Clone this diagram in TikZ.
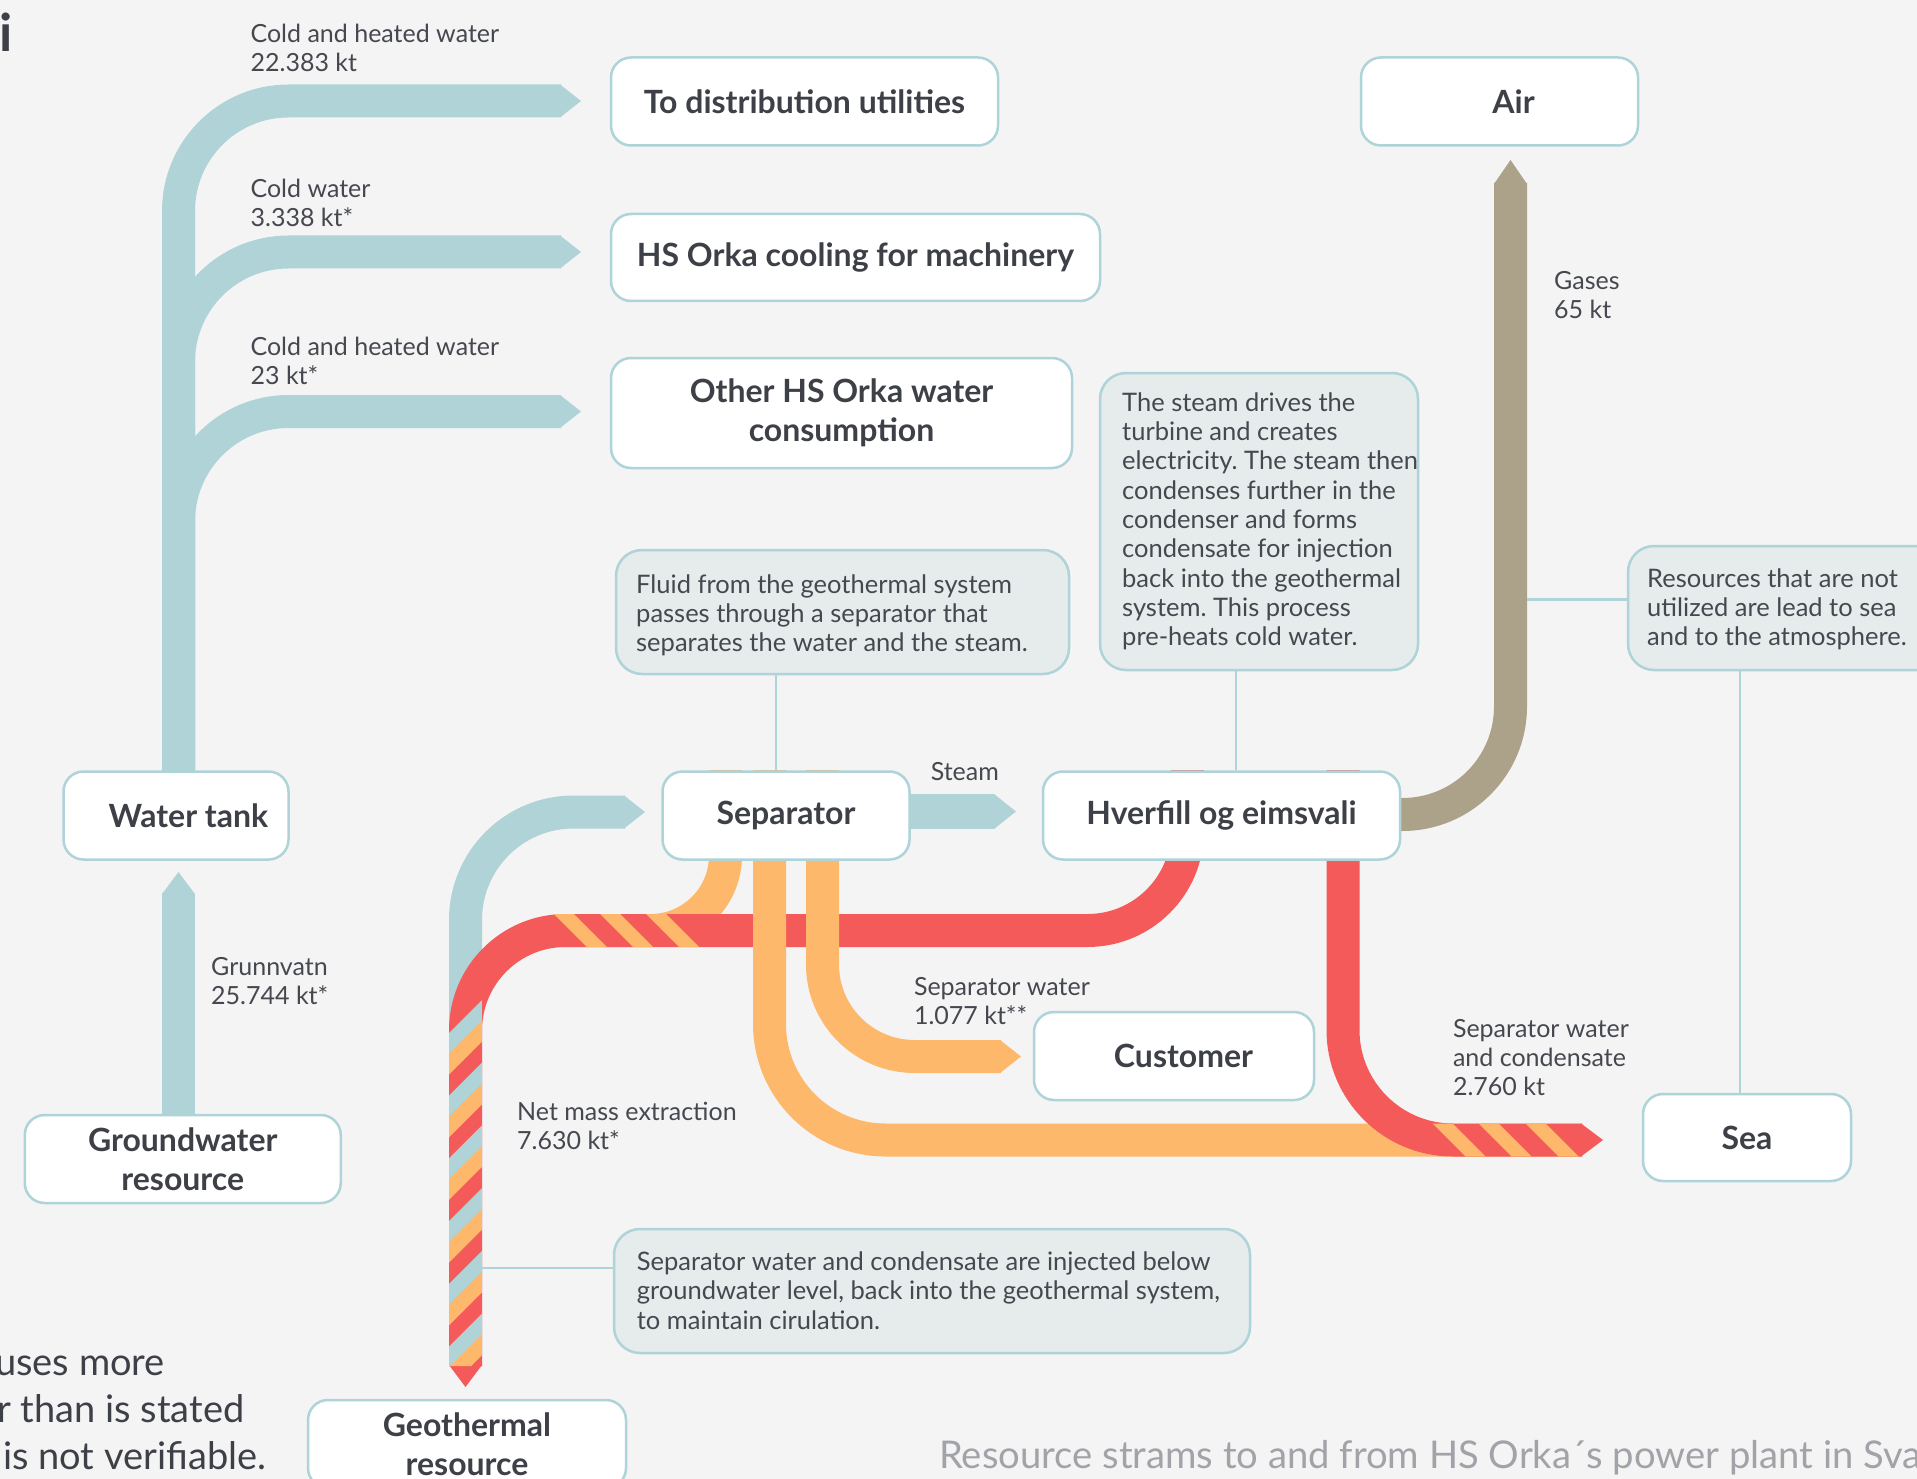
\documentclass[tikz,border=0pt]{standalone}
\usepackage{fontspec}
\setmainfont{Lato}
\usetikzlibrary{calc}
\frenchspacing
\definecolor{bgc}{HTML}{F4F4F4}
\definecolor{bordc}{HTML}{AED3D8}
\definecolor{notec}{HTML}{E6EBEC}
\definecolor{sblue}{HTML}{B0D3D7}
\definecolor{sorange}{HTML}{FDB86C}
\definecolor{sred}{HTML}{F45A59}
\definecolor{stan}{HTML}{ACA189}
\definecolor{tdark}{HTML}{3E4047}
\definecolor{tlbl}{HTML}{46484F}
\definecolor{tgray}{HTML}{A2A3A8}
\colorlet{stripe0}{sblue}
\colorlet{stripe1}{sorange}
\colorlet{stripe2}{sred}
\newcommand\boxfnt{\fontsize{32}{38.5}\selectfont\bfseries}
\newcommand\lblfnt{\fontsize{25}{29}\selectfont}
\newcommand\notefnt{\fontsize{25.5}{29.3}\selectfont}
\newcommand\bigfnt{\fontsize{38}{47}\selectfont}
\newcommand\ttlfnt{\fontsize{38.2}{44}\selectfont}
\begin{document}
\begin{tikzpicture}[x=1pt,y=-1pt,
  box/.style={draw=bordc, line width=2.5pt, fill=white, rounded corners=20pt, font=\boxfnt, text=tdark, align=center, inner sep=0pt},
  note/.style={draw=bordc, line width=2.5pt, fill=notec, rounded corners=26pt, inner sep=0pt},
  notetxt/.style={font=\notefnt, text=tlbl, align=left, anchor=north west, inner sep=0pt},
  lbl/.style={font=\lblfnt, text=tlbl, align=left, anchor=north west, inner sep=0pt},
  bigtxt/.style={font=\bigfnt, text=tdark, anchor=base west, inner sep=0pt},
  conn/.style={draw=bordc, line width=2.5pt},
  stream/.style={line width=33pt, line cap=butt},
]
\useasboundingbox (0,0) rectangle (1917,1479);
\clip (0,0) rectangle (1917,1479);
\fill[bgc] (0,0) rectangle (1917,1479);

% ---------- blue tree from water tank
\draw[stream, sblue, rounded corners=110pt] (178.5,771.5) -- (178.5,101) -- (561,101);
\draw[stream, sblue, rounded corners=110pt] (178.5,771.5) -- (178.5,252) -- (561,252);
\draw[stream, sblue, rounded corners=110pt] (178.5,771.5) -- (178.5,411.5) -- (561,411.5);
\fill[sblue] (560,84.5) -- (581,101) -- (560,117.5) -- cycle;
\fill[sblue] (560,235.5) -- (581,252) -- (560,268.5) -- cycle;
\fill[sblue] (560,395) -- (581,411.5) -- (560,428) -- cycle;

% groundwater
\draw[stream, sblue] (178.5,1115) -- (178.5,893);
\fill[sblue] (162,894) -- (178.5,872) -- (195,894) -- cycle;

% gases
\draw[stream, stan, rounded corners=108pt] (1380,814.5) -- (1510.5,814.5) -- (1510.5,183);
\fill[stan] (1494,184) -- (1510.5,160) -- (1527,184) -- cycle;

% steam
\draw[line width=35pt, sblue] (900,811.5) -- (995,811.5);
\fill[sblue] (994,794) -- (1016,811.5) -- (994,829) -- cycle;

% geothermal fluid to separator
\draw[stream, sblue, rounded corners=108pt] (465.5,1366) -- (465.5,812) -- (625,812);
\fill[sblue] (624,795.5) -- (645,812) -- (624,828.5) -- cycle;

% separator water to injection
\draw[stream, sorange, rounded corners=75pt] (725.5,770) -- (725.5,930.5) -- (560,930.5);

% condensate to injection
\draw[stream, sred, rounded corners=100pt] (1187.5,770) -- (1187.5,930.5) -- (465.5,930.5) -- (465.5,1366);
\fill[sred] (449,1365) -- (465.5,1387) -- (482,1365) -- cycle;

% stripes in injection column
\begin{scope}
\clip (449,1033) -- (482,1000) -- (482,1366) -- (449,1366) -- cycle;
\foreach \k in {0,...,18}{
  \pgfmathsetmacro\sa{1482+20.9*\k}
  \pgfmathsetmacro\sb{\sa+21.4}
  \pgfmathtruncatemacro\cc{mod(\k,3)}
  \fill[stripe\cc] (449,\sa-449) -- (482,\sa-482) -- (482,\sb-482) -- (449,\sb-449) -- cycle;
}
\end{scope}

% stripes on horizontal injection band
\begin{scope}
\clip (540,914) rectangle (720,947);
\foreach \a in {-360,-314,-268}{
  \fill[sorange] (\a+914,914) -- (\a+934,914) -- (\a+967,947) -- (\a+947,947) -- cycle;
}
\end{scope}

% separator water to sea
\draw[stream, sorange, rounded corners=116pt] (769.5,770) -- (769.5,1140) -- (1582,1140);
% separator water to customer
\draw[stream, sorange, rounded corners=92pt] (822.5,770) -- (822.5,1056.5) -- (1001,1056.5);
\fill[sorange] (1000,1040) -- (1021,1056.5) -- (1000,1073) -- cycle;

% condensate to sea
\draw[stream, sred, rounded corners=110pt] (1343,770) -- (1343,1140) -- (1582,1140);
\fill[sred] (1581,1123.5) -- (1603,1140) -- (1581,1156.5) -- cycle;
\begin{scope}
\clip (1420,1123.5) rectangle (1582,1156.5);
\foreach \a in {309,355,402}{
  \fill[sorange] (\a+1123.5,1123.5) -- (\a+1143.5,1123.5) -- (\a+1176.5,1156.5) -- (\a+1156.5,1156.5) -- cycle;
}
\end{scope}

% ---------- boxes
\node[box, minimum width=387pt, minimum height=88pt] (dist) at (804.5,101.5) {To distribution utilities};
\node[box, minimum width=489pt, minimum height=87pt] (cool) at (855.5,257.5) {HS Orka cooling for machinery};
\node[box, minimum width=461pt, minimum height=110pt] (other) at (841.5,413) {Other HS Orka water\\consumption};
\node[box, minimum width=277pt, minimum height=88pt] (air) at (1499.5,101.5) {\hspace*{28pt}Air};
\node[box, minimum width=225pt, minimum height=88pt] (wt) at (176,815.5) {\hspace*{25pt}Water tank};
\node[box, minimum width=247pt, minimum height=88pt] (sep) at (786,815.5) {Separator};
\node[box, minimum width=357pt, minimum height=88pt] (hv) at (1221.5,815.5) {Hverfill og eimsvali};
\node[box, minimum width=280pt, minimum height=88pt] (cust) at (1174,1056) {\hspace*{19pt}Customer};
\node[box, minimum width=316pt, minimum height=88pt] (gw) at (182.75,1159) {Groundwater\\resource};
\node[box, minimum width=208pt, minimum height=87pt] (sea) at (1747,1137.5) {Sea};
\node[box, minimum width=318pt, minimum height=88pt] (geo) at (467,1444) {Geothermal\\resource};

% ---------- notes
\node[note, minimum width=453pt, minimum height=124pt] (fluid) at (842.5,612) {};
\node[notetxt] (fluidt) at (636,574.4) {Fluid from the geothermal system\\passes through a separator that\\separates the water and the steam.};
\node[note, minimum width=318pt, minimum height=297pt] (stn) at (1259,521.5) {};
\node[notetxt] (stnt) at (1122,392.4) {The steam drives the\\turbine and creates\\electricity. The steam then\\condenses further in the\\condenser and forms\\condensate for injection\\back into the geothermal\\system. This process\\pre-heats cold water.};
\node[note, minimum width=332pt, minimum height=124pt] (res) at (1794,608) {};
\node[notetxt] (rest) at (1647,568.4) {Resources that are not\\utilized are lead to sea\\and to the atmosphere.};
\node[note, minimum width=636pt, minimum height=124pt] (inj) at (932,1291) {};
\node[notetxt] (injt) at (636.6,1251.7) {Separator water and condensate are injected below\\groundwater level, back into the geothermal system,\\to maintain cirulation.};

% ---------- connectors
\coordinate (gasedge) at (1527,599.5);
\coordinate (coledge) at (482,1268);
\draw[conn] ([xshift=-10pt]sep.north |- fluid.south) -- ([xshift=-10pt]sep.north);
\draw[conn] ([xshift=14.5pt]hv.north |- stn.south) -- ([xshift=14.5pt]hv.north);
\draw[conn] (gasedge -| res.west) -- (gasedge);
\draw[conn] ([xshift=-7pt]sea.north |- res.south) -- ([xshift=-7pt]sea.north);
\draw[conn] (coledge -| inj.west) -- (coledge);

% ---------- flow labels
\node[lbl] (l1) at (250.4,23.4) {Cold and heated water\\22.383 kt};
\node[lbl] (l2) at (250.4,178.4) {Cold water\\3.338 kt*};
\node[lbl] (l3) at (250.4,336.7) {Cold and heated water\\23 kt*};
\node[lbl] (l4) at (211,956.7) {Grunnvatn\\25.744 kt*};
\node[lbl] (l5) at (930.6,762.4) {Steam};
\node[lbl] (l6) at (913.8,976.7) {Separator water\\1.077 kt**};
\node[lbl] (l7) at (1452.8,1019.4) {Separator water\\and condensate\\2.760 kt};
\node[lbl] (l8) at (517,1101.7) {Net mass extraction\\7.630 kt*};
\node[lbl] (l9) at (1554,270.7) {Gases\\65 kt};

% ---------- cut-off texts
\node[anchor=base west, font=\fontsize{52}{60}\selectfont\bfseries, text=tdark, inner sep=0pt] (ii) at (-1,52) {i};
\node[bigtxt] (b1) at (-5,1375) {uses more};
\node[bigtxt] (b2) at (-3,1422) {r than is stated};
\node[bigtxt] (b3) at (3,1469) {is not verifiable.};
\node[anchor=base west, font=\ttlfnt, text=tgray, inner sep=0pt] (ttl) at (939,1468) {Resource strams to and from HS Orka´s power plant in Sva};
\end{tikzpicture}
\end{document}
